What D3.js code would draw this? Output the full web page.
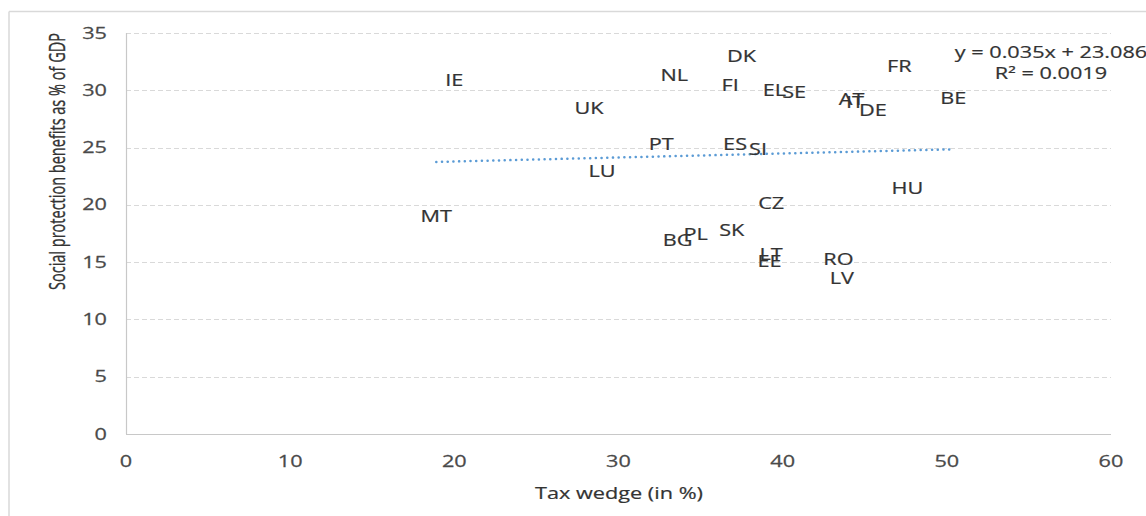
<!DOCTYPE html>
<html>
<head>
<meta charset="utf-8">
<script src="https://cdn.jsdelivr.net/npm/d3@7"></script>
<style>
  body { margin: 0; background: #fff; }
  text { font-family: "Open Sans", sans-serif; }
</style>
</head>
<body>
<script>
//Width and height
var w = 1146;
var h = 516;

//Country codes and values
var countries = ["IE","UK","NL","DK","FI","EL","SE","PT","ES","SI","LU","MT","CZ",
                 "SK","PL","BG","FR","AT","IT","DE","BE","HU","LT","EE","RO","LV"];
var taxWedge = [20.0, 28.2, 33.4, 37.5, 36.8, 39.5, 40.7, 32.6, 37.1, 38.5, 29.0, 18.9, 39.3,
                36.9, 34.7, 33.6, 47.1, 44.2, 44.4, 45.5, 50.4, 47.6, 39.3, 39.2, 43.4, 43.6];
var socialBenefits = [30.9, 28.4, 31.3, 33.0, 30.4, 30.0, 29.8, 25.3, 25.3, 24.8, 22.9, 19.0, 20.1,
                      17.8, 17.4, 16.9, 32.1, 29.2, 28.9, 28.2, 29.3, 21.4, 15.7, 15.1, 15.2, 13.6];

//Trendline as printed on the chart
var trendSlope = 0.035;
var trendIntercept = 23.086;
var trendLabels = ["y = 0.035x + 23.086", "R\u00b2 = 0.0019"];

//Tick values
var xTicks = [0, 10, 20, 30, 40, 50, 60];
var yTicks = [0, 5, 10, 15, 20, 25, 30, 35];

//the picture is stretched sideways, so text gets the same stretch
var sx = 1.4;

var svg = d3.select("body")
            .append("svg")
            .attr("width", w)
            .attr("height", h);

//outer frame (only top and left edges are visible)
svg.append("line").attr("x1", 9).attr("x2", w).attr("y1", 11.5).attr("y2", 11.5)
   .attr("stroke", "#d9d9d9").attr("stroke-width", 1.5);
svg.append("line").attr("x1", 9).attr("x2", 9).attr("y1", 11.5).attr("y2", h)
   .attr("stroke", "#d9d9d9").attr("stroke-width", 1.5);

var x = d3.scaleLinear().domain([0, 60]).range([126, 1111]);
var y = d3.scaleLinear().domain([0, 35]).range([434, 33]);

//gridlines
svg.selectAll(".grid")
   .data(yTicks.filter(function(d) { return d > 0; }))
   .enter()
   .append("line")
   .attr("x1", x(0))
   .attr("x2", x(60))
   .attr("y1", function(d) { return Math.round(y(d)) + 0.5; })
   .attr("y2", function(d) { return Math.round(y(d)) + 0.5; })
   .attr("stroke", "#d9d9d9")
   .attr("stroke-width", 1.2)
   .attr("stroke-dasharray", "5,3");

//axis lines
svg.append("line").attr("x1", x(0)).attr("x2", x(60))
   .attr("y1", Math.round(y(0)) + 0.5).attr("y2", Math.round(y(0)) + 0.5)
   .attr("stroke", "#c8c8c8").attr("stroke-width", 1.2);
svg.append("line").attr("x1", Math.round(x(0)) + 0.5).attr("x2", Math.round(x(0)) + 0.5)
   .attr("y1", y(35)).attr("y2", y(0))
   .attr("stroke", "#c8c8c8").attr("stroke-width", 1.2);

//tick labels
svg.selectAll(".ytick")
   .data(yTicks)
   .enter()
   .append("text")
   .attr("transform", function(d) { return "translate(107," + y(d) + ") scale(" + sx + ",1)"; })
   .attr("dy", "0.36em")
   .attr("text-anchor", "end")
   .style("font-size", "15.5px")
   .style("fill", "#4a4a4a")
   .style("stroke", "#4a4a4a")
   .style("stroke-width", 0.25)
   .text(function(d) { return d; });

svg.selectAll(".xtick")
   .data(xTicks)
   .enter()
   .append("text")
   .attr("transform", function(d) { return "translate(" + x(d) + ",461) scale(" + sx + ",1)"; })
   .attr("dy", "0.36em")
   .attr("text-anchor", "middle")
   .style("font-size", "15.5px")
   .style("fill", "#4a4a4a")
   .style("stroke", "#4a4a4a")
   .style("stroke-width", 0.25)
   .text(function(d) { return d; });

//axis titles
svg.append("text")
   .attr("transform", "translate(619,493) scale(" + sx + ",1)")
   .attr("dy", "0.36em")
   .attr("text-anchor", "middle")
   .style("font-size", "15.5px")
   .style("fill", "#333")
   .style("stroke", "#333")
   .style("stroke-width", 0.2)
   .text("Tax wedge (in %)");

svg.append("text")
   .attr("transform", "translate(65,161.5) scale(" + sx + ",1) rotate(-90)")
   .attr("text-anchor", "middle")
   .attr("textLength", 257)
   .attr("lengthAdjust", "spacingAndGlyphs")
   .style("font-size", "15.5px")
   .style("fill", "#333")
   .style("stroke", "#333")
   .style("stroke-width", 0.25)
   .text("Social protection benefits as % of GDP");

//linear trendline over the range of the data
var xExt = d3.extent(taxWedge);
svg.append("line")
   .attr("x1", x(xExt[0]))
   .attr("x2", x(xExt[1]))
   .attr("y1", y(trendSlope * xExt[0] + trendIntercept))
   .attr("y2", y(trendSlope * xExt[1] + trendIntercept))
   .attr("stroke", "#5b9bd5")
   .attr("stroke-width", 2.5)
   .attr("stroke-linecap", "round")
   .attr("stroke-dasharray", "0.1,5.6");

//country labels, centred on the points
svg.selectAll(".country")
   .data(countries)
   .enter()
   .append("text")
   .attr("transform", function(d, i) {
       return "translate(" + x(taxWedge[i]) + "," + y(socialBenefits[i]) + ") scale(" + sx + ",1)";
   })
   .attr("dy", "0.36em")
   .attr("text-anchor", "middle")
   .style("font-size", "15.5px")
   .style("fill", "#333")
   .style("stroke", "#333")
   .style("stroke-width", 0.2)
   .text(function(d) { return d; });

//trendline equation
svg.selectAll(".eq")
   .data(trendLabels)
   .enter()
   .append("text")
   .attr("transform", function(d, i) { return "translate(1051," + (52 + i * 21) + ") scale(" + sx + ",1)"; })
   .attr("dy", "0.36em")
   .attr("text-anchor", "middle")
   .style("font-size", "15.5px")
   .style("fill", "#333")
   .style("stroke", "#333")
   .style("stroke-width", 0.2)
   .text(function(d) { return d; });
</script>
</body>
</html>
